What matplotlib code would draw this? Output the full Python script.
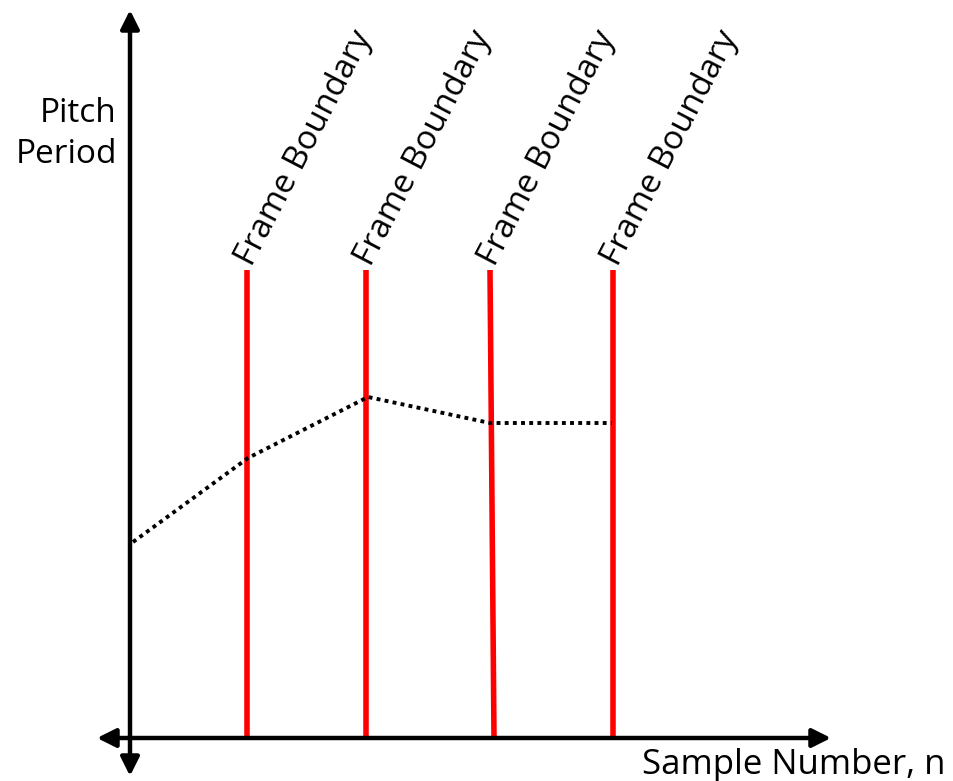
import matplotlib.pyplot as plt

# pitch period track (x: sample position, y: pitch period)
track_x = [133, 248, 368, 490, 612]
track_y = [239, 323, 384, 358, 358]

# frame boundaries (bottom x, top x) - third one leans a bit
bound_bottom = [247, 366, 494, 613]
bound_top = [247, 366, 490, 613]
bound_y0 = 43
bound_y1 = 511
bound_label = "Frame Boundary"

fig = plt.figure(figsize=(9.54, 7.81), dpi=100)
ax = fig.add_axes([0, 0, 1, 1])
ax.set_xlim(0, 954)
ax.set_ylim(0, 781)
ax.axis('off')

font = ['Open Sans', 'DejaVu Sans']

# axes arrows
arr = dict(arrowstyle='<|-|>', color='black', lw=3.2, mutation_scale=28, shrinkA=0, shrinkB=0)
ax.annotate('', xy=(130, 771), xytext=(130, 5), arrowprops=arr)
ax.annotate('', xy=(97, 43), xytext=(831, 43), arrowprops=arr)

# boundaries
for xb, xt in zip(bound_bottom, bound_top):
    ax.plot([xb, xt], [bound_y0, bound_y1], color='red', lw=4, solid_capstyle='butt', zorder=2)
    ax.text(xt + 5, bound_y1 + 3, bound_label, rotation=62.5, rotation_mode='anchor',
            ha='left', va='baseline', fontsize=24, family=font)

ax.plot(track_x, track_y, color='black', lw=2.8, linestyle=(0, (1, 1.1)), zorder=3)

ax.text(117, 647, "Pitch\nPeriod", ha='right', va='center', fontsize=24,
        family=font, linespacing=1.3)
ax.text(946, 7, "Sample Number, n", ha='right', va='baseline', fontsize=25, family=font)

fig.savefig('out.png', dpi=100)
